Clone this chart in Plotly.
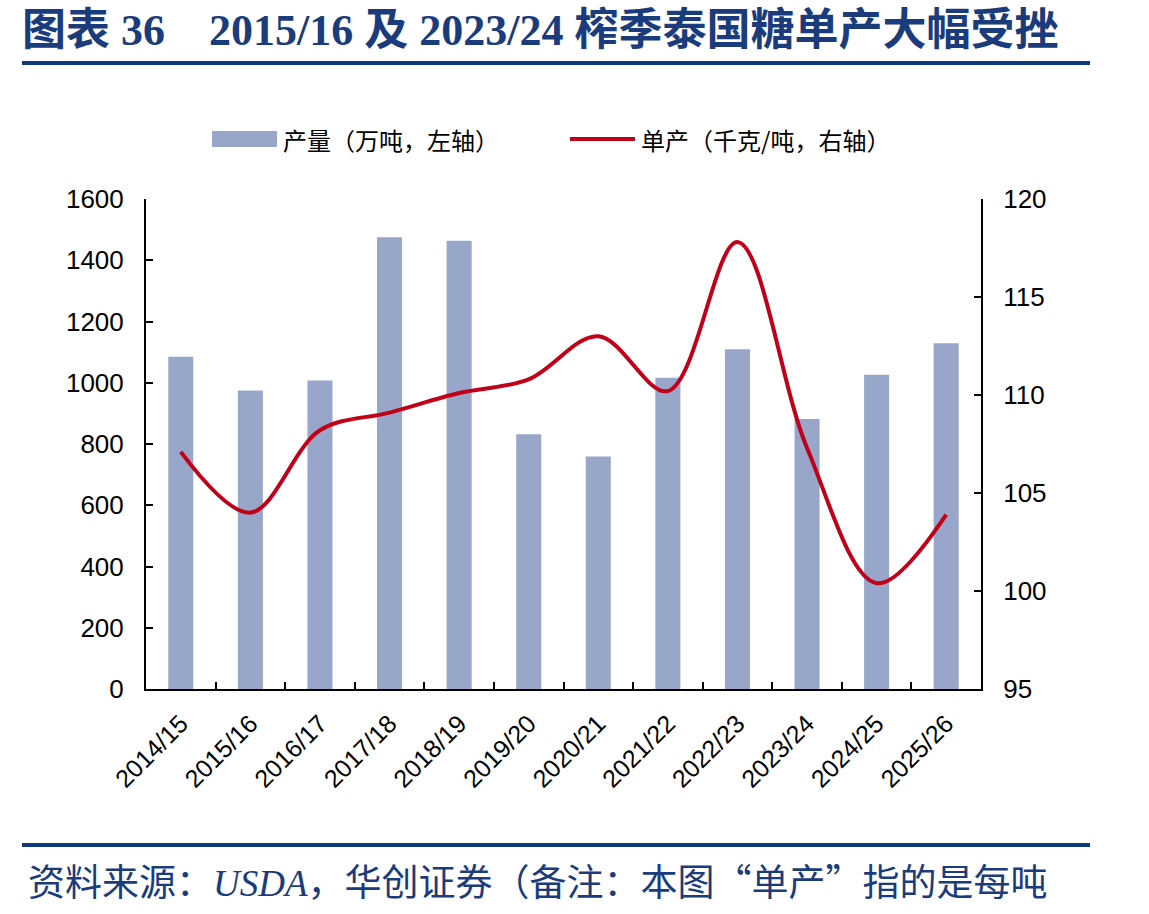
import plotly.graph_objects as go

seasons = ["2014/15", "2015/16", "2016/17", "2017/18", "2018/19", "2019/20",
           "2020/21", "2021/22", "2022/23", "2023/24", "2024/25", "2025/26"]
production = [1085, 975, 1007, 1475, 1464, 832, 759, 1016, 1109, 882, 1026, 1129]
yield_kg_t = [107.1, 104.0, 108.2, 109.1, 110.1, 110.8, 113.0, 110.2, 117.8, 107.3, 100.4, 103.9]

left_ticks = [0, 200, 400, 600, 800, 1000, 1200, 1400, 1600]
right_ticks = [95, 100, 105, 110, 115, 120]

title_text = "图表 36    2015/16 及 2023/24 榨季泰国糖单产大幅受挫"
legend_bar = "产量（万吨，左轴）"
legend_line = "单产（千克/吨，右轴）"
source_text = ("资料来源：<span style='font-family:Liberation Serif'><i>USDA</i></span>，"
               "华创证券（备注：本图“单产”指的是每吨")

W, H = 1149, 914
L, R, T, B = 146, 981, 199, 689
PW, PH = R - L, B - T

def px(x):
    return (x - L) / PW

def py(y):
    return (B - y) / PH

BAR_COLOR = "#98A6C9"
LINE_COLOR = "#C00018"
NAVY = "#1A3C7C"

fig = go.Figure()
fig.add_trace(go.Bar(x=seasons, y=production, marker=dict(color=BAR_COLOR, line=dict(width=0)),
                     width=0.36, name=legend_bar, yaxis="y", showlegend=False))
fig.add_trace(go.Scatter(x=seasons, y=yield_kg_t, mode="lines",
                         line=dict(color=LINE_COLOR, width=4, shape="spline", smoothing=1.0),
                         name=legend_line, yaxis="y2", showlegend=False))

tick_font = dict(family="Liberation Sans, Arial, sans-serif", size=26, color="#000000")
xtick_font = dict(family="Liberation Sans, Arial, sans-serif", size=25, color="#000000")

fig.update_layout(
    width=W, height=H,
    margin=dict(l=L, r=W - R, t=T, b=H - B, pad=0),
    paper_bgcolor="white", plot_bgcolor="white",
    xaxis=dict(type="category", showline=True, linecolor="black", linewidth=2,
               ticks="inside", ticklen=7, tickwidth=2, tickcolor="black", tickson="boundaries",
               tickangle=-45, tickfont=xtick_font, showgrid=False, zeroline=False,
               range=[-0.5, len(seasons) - 0.5], ticklabelstandoff=8),
    yaxis=dict(range=[0, 1600], tickvals=left_ticks, showline=True, linecolor="black", linewidth=2,
               ticks="inside", ticklen=7, tickwidth=2, tickcolor="black",
               tickfont=tick_font, showgrid=False, zeroline=False, ticklabelstandoff=15),
    yaxis2=dict(range=[95, 120], tickvals=right_ticks, overlaying="y", side="right",
                showline=True, linecolor="black", linewidth=2,
                ticks="inside", ticklen=7, tickwidth=2, tickcolor="black",
                tickfont=tick_font, showgrid=False, zeroline=False, ticklabelstandoff=15),
    bargap=0.64,
)

shapes = [
    dict(type="line", xref="paper", yref="paper", x0=px(22), x1=px(1090), y0=py(63), y1=py(63),
         line=dict(color="#0E3B7C", width=4)),
    dict(type="line", xref="paper", yref="paper", x0=px(22), x1=px(1090), y0=py(845), y1=py(845),
         line=dict(color="#0E3B7C", width=4)),
    dict(type="rect", xref="paper", yref="paper", x0=px(212), x1=px(277), y0=py(147), y1=py(131),
         fillcolor=BAR_COLOR, line=dict(width=0)),
    dict(type="line", xref="paper", yref="paper", x0=px(570), x1=px(635), y0=py(139), y1=py(139),
         line=dict(color=LINE_COLOR, width=4)),
]
fig.update_layout(shapes=shapes)

cjk = "Noto Sans CJK SC, sans-serif"
annotations = [
    dict(text="<b>" + title_text + "</b>", xref="paper", yref="paper", x=px(20), y=py(30),
         xanchor="left", yanchor="middle", showarrow=False,
         font=dict(family="Liberation Serif, Noto Sans CJK SC, serif", size=44, color=NAVY)),
    dict(text=legend_bar, xref="paper", yref="paper", x=px(281), y=py(139),
         xanchor="left", yanchor="middle", showarrow=False,
         font=dict(family=cjk, size=24, color="#000000")),
    dict(text=legend_line, xref="paper", yref="paper", x=px(639), y=py(139),
         xanchor="left", yanchor="middle", showarrow=False,
         font=dict(family=cjk, size=24, color="#000000")),
    dict(text=source_text, xref="paper", yref="paper", x=px(26), y=py(880),
         xanchor="left", yanchor="middle", showarrow=False,
         font=dict(family="Noto Sans CJK SC, sans-serif", size=37, color=NAVY)),
]
fig.update_layout(annotations=annotations)

fig.write_html("out.html")
